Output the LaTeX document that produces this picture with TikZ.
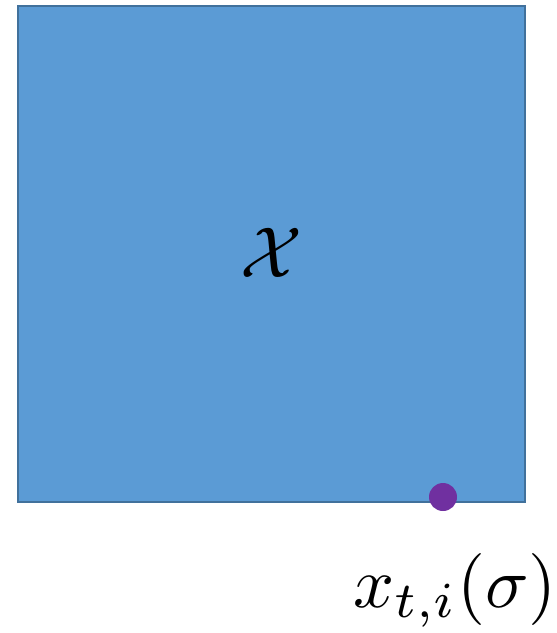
\documentclass[tikz,border=0pt]{standalone}
\usepackage{amsmath}
\usepackage{graphicx}
\definecolor{boxfill}{HTML}{5B9BD5}
\definecolor{boxline}{HTML}{41719C}
\definecolor{dotpurple}{HTML}{7030A0}
\newcommand{\enlargedmath}[1]{\scalebox{7.2}{$#1$}}
\begin{document}
\begin{tikzpicture}[x=1pt,y=-1pt,
  spacebox/.style={draw=boxline,fill=boxfill,line width=2pt},
  bigmath/.style={inner sep=0pt}]
\useasboundingbox (0,0) rectangle (557,633);
\draw[spacebox] (18,6) rectangle (525,502);
\node[bigmath] (X) at (271,253) {\enlargedmath{\mathcal{X}}};
\fill[dotpurple] (443,497) circle (14);
\node[bigmath,anchor=base west] (lbl) at (353,607) {\enlargedmath{x_{t,i}(\sigma)}};
\end{tikzpicture}
\end{document}
